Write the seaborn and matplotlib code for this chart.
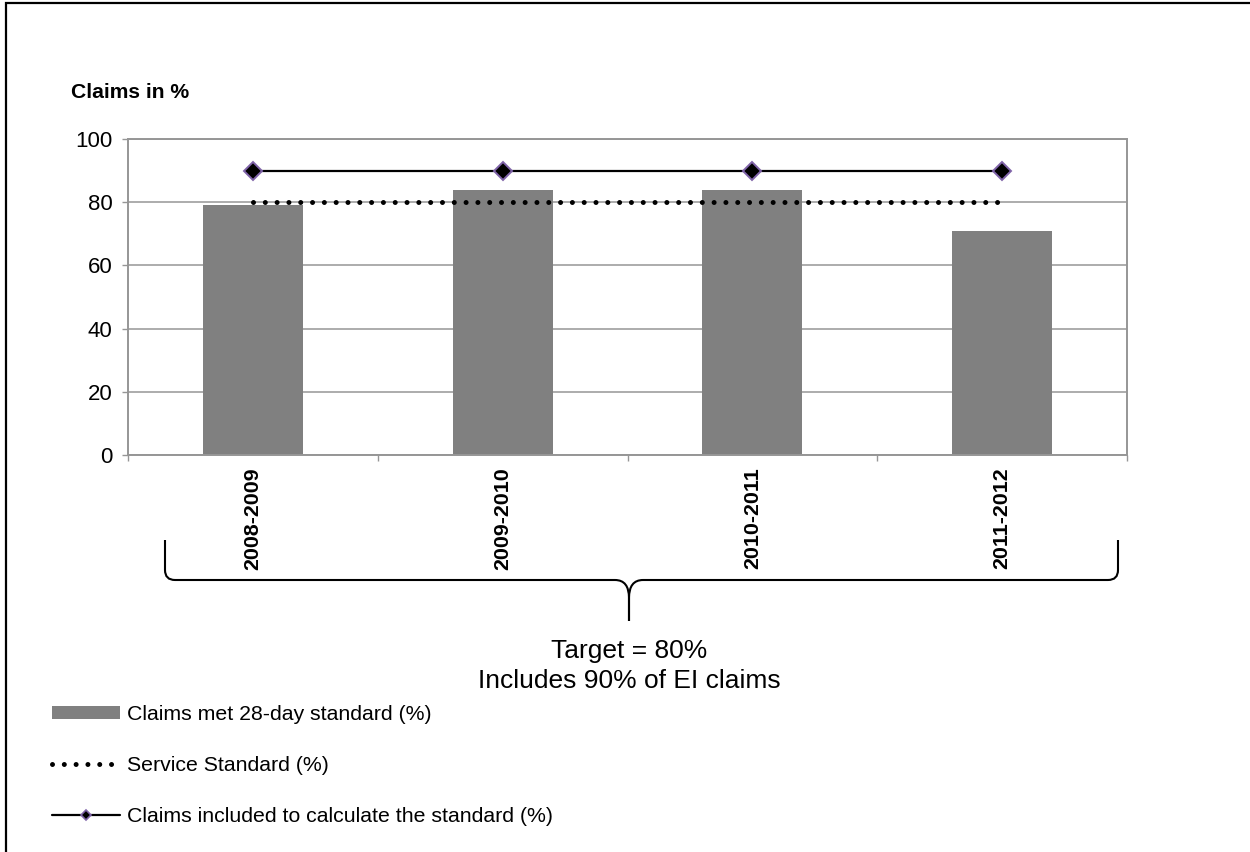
import numpy as np
import pandas as pd
import matplotlib
matplotlib.use("Agg")
import matplotlib.pyplot as plt
import seaborn as sns
from matplotlib.lines import Line2D
from matplotlib.patches import Patch, PathPatch
from matplotlib.path import Path

# ---- data ----
years = ["2008-2009", "2009-2010", "2010-2011", "2011-2012"]
met_standard = [79, 84, 84, 71]          # claims that met the 28-day standard (%)
service_standard = [80, 80, 80, 80]      # service standard (%)
claims_included = [90, 90, 90, 90]       # claims included to calculate the standard (%)
y_ticks = [0, 20, 40, 60, 80, 100]

series_labels = [
    "Claims met 28-day standard (%)",
    "Service Standard (%)",
    "Claims included to calculate the standard (%)",
]
y_title = "Claims in %"
target_note = ["Target = 80%", "Includes 90% of EI claims"]

# ---- style ----
sns.set_style("white")
plt.rcParams["font.family"] = ["Liberation Sans", "DejaVu Sans"]
plt.rcParams["text.color"] = "black"
plt.rcParams["xtick.color"] = "black"
plt.rcParams["ytick.color"] = "black"
plt.rcParams["xtick.labelcolor"] = "black"
plt.rcParams["ytick.labelcolor"] = "black"

GRID = "#969696"
BAR = "#808080"
EDGE_PURPLE = "#7f63a8"
DOT_LW = 3.6
DOTTED = (0, (0.001, 8.5 / DOT_LW))

W, H = 1250, 852
fig = plt.figure(figsize=(W / 100, H / 100), dpi=100)
fig.patch.set_facecolor("white")

# main plot area (pixel box converted to figure fractions)
ax = fig.add_axes([128 / W, 1 - 455 / H, (1127 - 128) / W, (455 - 139) / H])

df = pd.DataFrame({"year": years, "met": met_standard})
sns.barplot(data=df, x="year", y="met", color=BAR, saturation=1,
            width=0.4, ax=ax, zorder=2, edgecolor=BAR, linewidth=0)

pos = np.arange(len(years))
sns.lineplot(x=pos, y=service_standard, ax=ax, color="black", lw=DOT_LW,
             linestyle=DOTTED, dash_capstyle="round", zorder=3)
sns.lineplot(x=pos, y=claims_included, ax=ax, color="black", lw=1.6,
             marker="D", markersize=9, markerfacecolor="black",
             markeredgecolor=EDGE_PURPLE, markeredgewidth=1.4, zorder=4)

ax.set_xlim(-0.5, len(years) - 0.5)
ax.set_ylim(0, 100)
ax.set_xlabel("")
ax.set_ylabel("")

ax.set_yticks(y_ticks)
ax.yaxis.grid(True, color=GRID, lw=1.1)
ax.set_axisbelow(True)
for sp in ax.spines.values():
    sp.set_visible(True)
    sp.set_color(GRID)
    sp.set_linewidth(1.4)

ax.tick_params(axis="y", left=True, length=4.3, width=1, color=GRID,
               pad=7, labelsize=16, direction="out")
ax.set_xticks(pos)
ax.set_xticklabels(years, rotation=90, fontweight="bold")
ax.tick_params(axis="x", which="major", length=0, pad=9, labelsize=15.4)
ax.set_xticks(np.arange(-0.5, len(years), 1), minor=True)
ax.tick_params(axis="x", which="minor", bottom=True, length=4.3, width=1,
               color=GRID, direction="out")

# ---- overlay in pixel coordinates for frame, brace and notes ----
ov = fig.add_axes([0, 0, 1, 1], facecolor="none")
ov.set_xlim(0, W)
ov.set_ylim(H, 0)
ov.axis("off")

ov.plot([6, 6, W + 5], [H + 5, 3, 3], color="black", lw=1.6,
        clip_on=False, solid_joinstyle="miter")

def brace_half(x_end, x_mid, y_top=540, y_bar=580, y_tip=621, r=10, r2=14):
    s = 1 if x_mid > x_end else -1
    verts = [(x_end, y_top), (x_end, y_bar - r),
             (x_end, y_bar), (x_end + s * r, y_bar),
             (x_mid - s * r2, y_bar),
             (x_mid, y_bar), (x_mid, y_bar + 18),
             (x_mid, y_tip)]
    codes = [Path.MOVETO, Path.LINETO, Path.CURVE3, Path.CURVE3,
             Path.LINETO, Path.CURVE3, Path.CURVE3, Path.LINETO]
    return Path(verts, codes)

for xe in (165, 1118):
    ov.add_patch(PathPatch(brace_half(xe, 629), fill=False, lw=1.5,
                           edgecolor="black"))

ov.text(629, 658, target_note[0], ha="center", va="baseline", fontsize=19)
ov.text(629, 688, target_note[1], ha="center", va="baseline", fontsize=19)

fig.text(71 / W, 1 - 98 / H, y_title, ha="left", va="baseline",
         fontsize=15.2, fontweight="bold")

# ---- legend ----
handles = [
    Patch(facecolor=BAR, edgecolor="none"),
    Line2D([], [], color="black", lw=DOT_LW, linestyle=DOTTED,
           dash_capstyle="round"),
    Line2D([], [], color="black", lw=1.6, marker="D", markersize=5,
           markerfacecolor="black", markeredgecolor=EDGE_PURPLE,
           markeredgewidth=1.2),
]
fig.legend(handles, series_labels, loc="upper left",
           bbox_to_anchor=(52 / W, 1 - 705 / H), frameon=False, fontsize=15.3,
           handlelength=3.2, handleheight=0.53, handletextpad=0.34,
           labelspacing=1.5, borderpad=0, borderaxespad=0, numpoints=1)

fig.savefig("out.png", dpi=100, facecolor="white")
